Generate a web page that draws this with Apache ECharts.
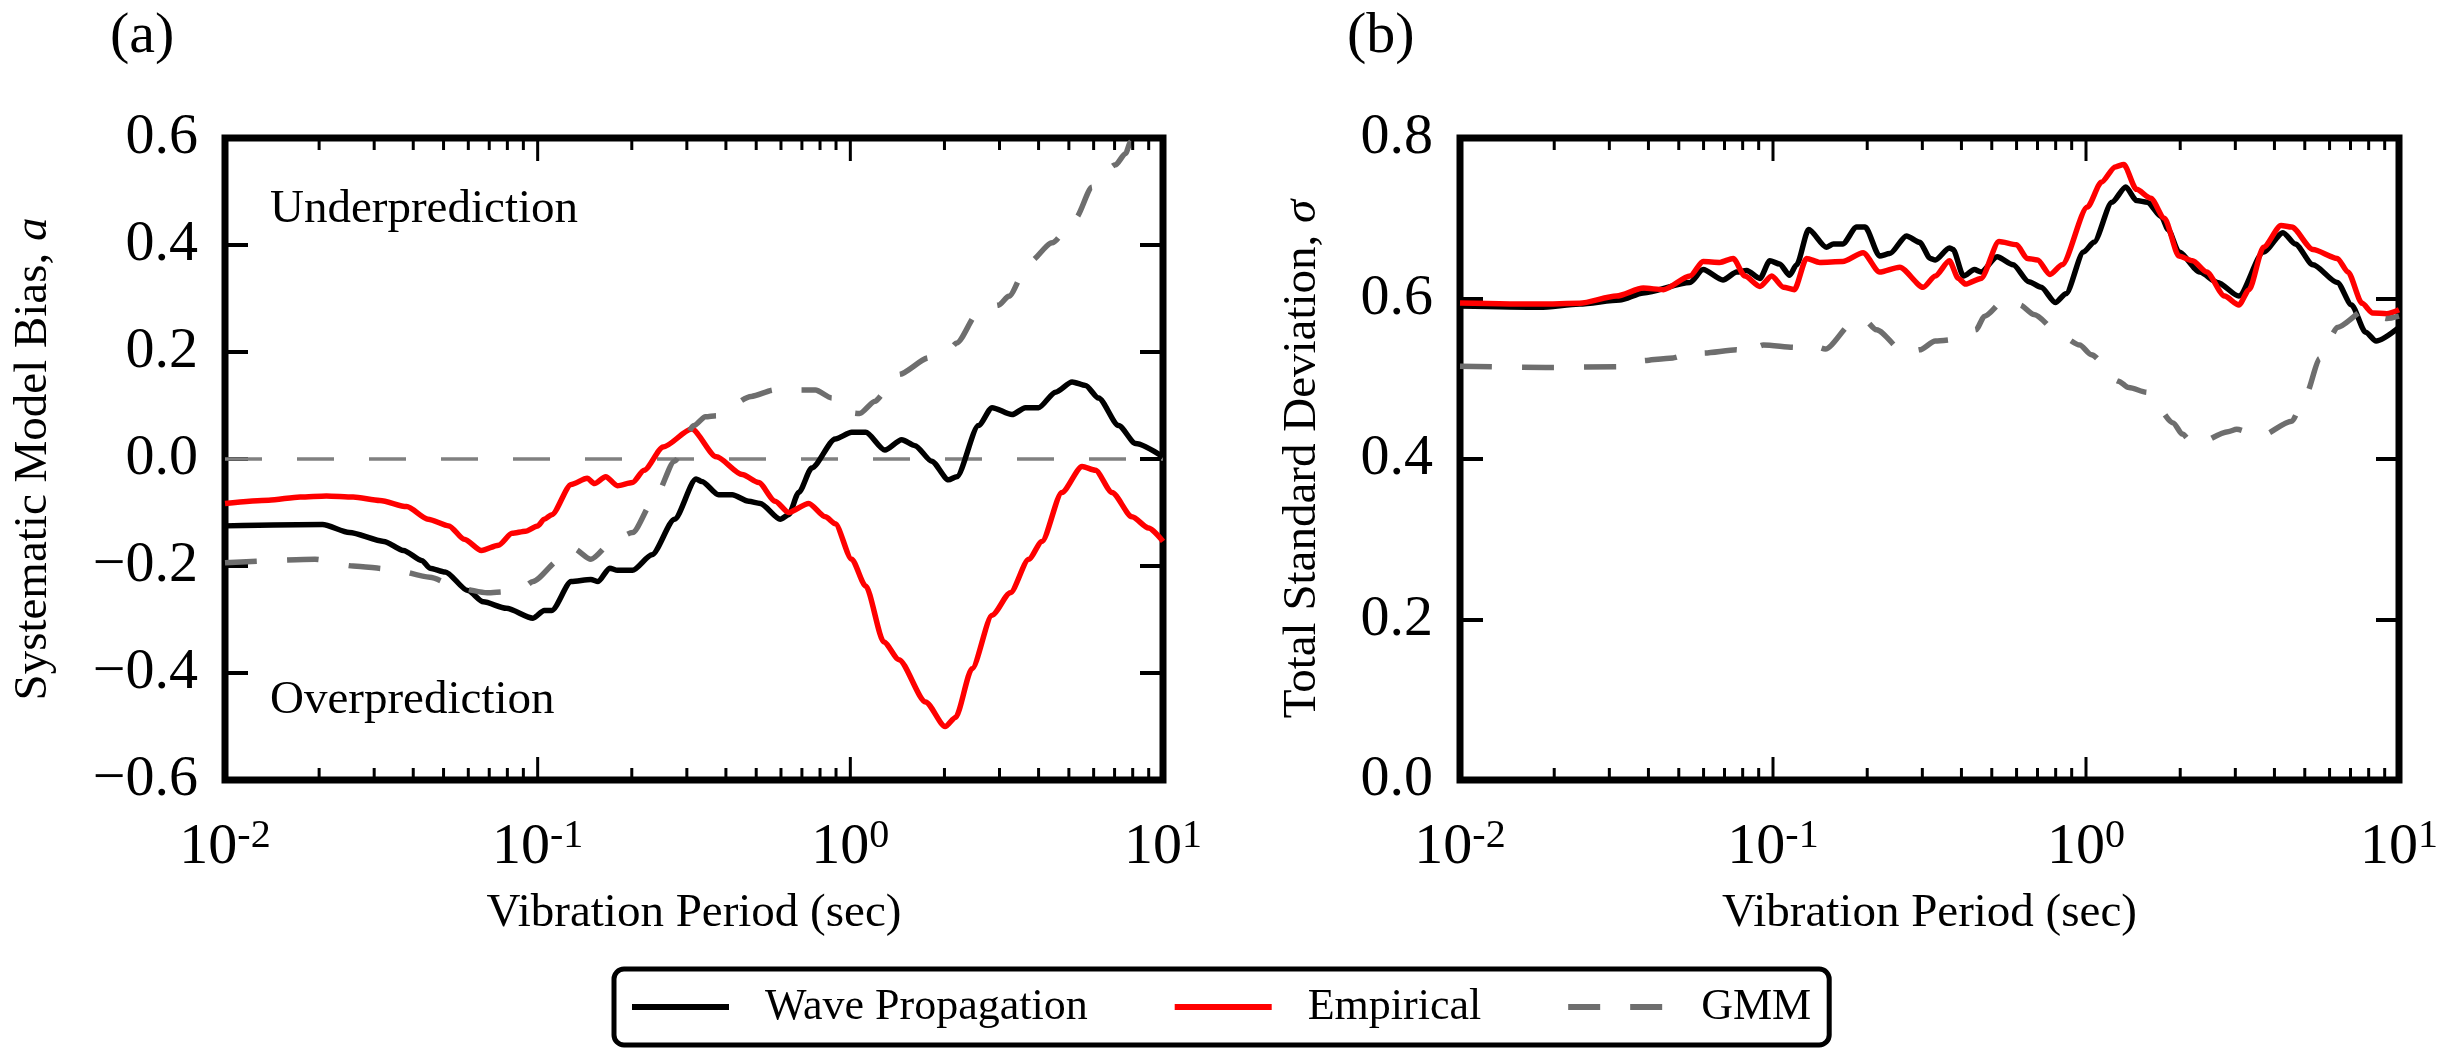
<!DOCTYPE html>
<html>
<head>
<meta charset="utf-8">
<script src="https://cdn.jsdelivr.net/npm/echarts@6/dist/echarts.min.js"></script>
<style>html,body{margin:0;padding:0;background:#fff;}#chart{width:2453px;height:1048px;}</style>
</head>
<body>
<div id="chart"></div>
<script>
// ---------- DATA: [period (sec), value] ----------
const biasWave = [[0.01,-0.125],[0.0205,-0.1225],[0.025,-0.1375],[0.0322,-0.154],[0.0372,-0.171],[0.0427,-0.19],[0.0452,-0.204],[0.0506,-0.211],[0.0598,-0.246],[0.067,-0.267],[0.0794,-0.279],[0.0966,-0.2975],[0.105,-0.283],[0.111,-0.283],[0.128,-0.229],[0.148,-0.225],[0.156,-0.229],[0.17,-0.204],[0.18,-0.208],[0.201,-0.208],[0.232,-0.179],[0.274,-0.1125],[0.321,-0.0375],[0.335,-0.042],[0.379,-0.067],[0.419,-0.067],[0.473,-0.079],[0.515,-0.083],[0.597,-0.1125],[0.635,-0.104],[0.684,-0.0625],[0.753,-0.0167],[0.895,0.0375],[1.01,0.05],[1.12,0.05],[1.29,0.0167],[1.46,0.036],[1.61,0.025],[1.82,-0.004],[2.06,-0.039],[2.19,-0.033],[2.57,0.0625],[2.84,0.096],[3.29,0.083],[3.63,0.096],[4.0,0.096],[4.53,0.125],[5.12,0.144],[5.65,0.1375],[6.22,0.114],[7.21,0.0625],[8.17,0.029],[10,0.004]];
const biasEmpirical = [[0.01,-0.083],[0.0138,-0.077],[0.0174,-0.071],[0.0211,-0.069],[0.0257,-0.071],[0.0313,-0.0775],[0.0381,-0.089],[0.0446,-0.1125],[0.052,-0.125],[0.0582,-0.15],[0.0661,-0.171],[0.075,-0.161],[0.0828,-0.139],[0.0914,-0.135],[0.1,-0.125],[0.105,-0.1125],[0.111,-0.104],[0.128,-0.0475],[0.144,-0.036],[0.152,-0.046],[0.165,-0.033],[0.18,-0.05],[0.201,-0.044],[0.219,-0.021],[0.252,0.0225],[0.311,0.056],[0.373,0.004],[0.451,-0.029],[0.509,-0.044],[0.575,-0.079],[0.635,-0.1],[0.736,-0.083],[0.832,-0.108],[0.895,-0.121],[1.01,-0.1875],[1.12,-0.2375],[1.28,-0.342],[1.43,-0.375],[1.74,-0.454],[2.01,-0.5],[2.17,-0.483],[2.45,-0.392],[2.84,-0.292],[3.25,-0.25],[3.72,-0.1875],[4.1,-0.154],[4.75,-0.0625],[5.51,-0.014],[6.08,-0.021],[6.87,-0.0625],[7.96,-0.108],[8.99,-0.129],[10,-0.154]];
const biasGMM = [[0.01,-0.194],[0.0194,-0.1875],[0.0257,-0.2],[0.034,-0.206],[0.0452,-0.221],[0.0566,-0.242],[0.0689,-0.25],[0.0794,-0.248],[0.0889,-0.242],[0.0966,-0.229],[0.118,-0.1875],[0.13,-0.167],[0.148,-0.1875],[0.175,-0.1525],[0.201,-0.1375],[0.238,-0.071],[0.274,-0.004],[0.316,0.0625],[0.344,0.079],[0.373,0.081],[0.482,0.117],[0.571,0.129],[0.646,0.129],[0.773,0.129],[0.873,0.114],[0.964,0.0875],[1.07,0.085],[1.2,0.108],[1.29,0.125],[1.43,0.158],[1.78,0.189],[2.06,0.204],[2.19,0.217],[2.57,0.275],[2.98,0.2875],[3.21,0.304],[3.72,0.367],[4.42,0.404],[5.25,0.45],[5.93,0.508],[7.05,0.55],[7.59,0.571],[7.87,0.592],[8.91,0.66],[10,0.72]];
const zeroRef = [[0.01,0],[10,0]];

const sigmaWave = [[0.01,0.5905],[0.018,0.589],[0.0241,0.593],[0.0324,0.598],[0.0385,0.607],[0.0543,0.62],[0.0598,0.636],[0.0692,0.623],[0.0766,0.633],[0.0824,0.635],[0.0908,0.625],[0.0977,0.647],[0.105,0.643],[0.113,0.629],[0.119,0.642],[0.13,0.686],[0.148,0.664],[0.156,0.668],[0.167,0.668],[0.185,0.689],[0.197,0.689],[0.219,0.653],[0.236,0.656],[0.267,0.678],[0.294,0.67],[0.318,0.65],[0.33,0.648],[0.366,0.663],[0.376,0.661],[0.406,0.628],[0.44,0.636],[0.462,0.633],[0.52,0.652],[0.585,0.642],[0.656,0.621],[0.719,0.614],[0.798,0.595],[0.863,0.606],[0.982,0.658],[1.06,0.67],[1.21,0.72],[1.34,0.739],[1.45,0.722],[1.57,0.72],[1.74,0.702],[1.83,0.686],[1.98,0.658],[2.31,0.633],[2.63,0.62],[3.08,0.603],[3.69,0.658],[4.26,0.682],[4.66,0.668],[5.31,0.642],[6.35,0.62],[7.05,0.592],[7.82,0.558],[8.45,0.547],[10,0.564]];
const sigmaEmpirical = [[0.01,0.5945],[0.018,0.593],[0.0241,0.594],[0.0316,0.603],[0.0385,0.613],[0.0447,0.611],[0.0543,0.628],[0.0598,0.646],[0.0676,0.645],[0.0746,0.65],[0.0813,0.628],[0.0908,0.615],[0.0991,0.628],[0.108,0.614],[0.117,0.611],[0.128,0.65],[0.141,0.645],[0.167,0.646],[0.194,0.657],[0.219,0.633],[0.254,0.639],[0.302,0.614],[0.33,0.628],[0.366,0.647],[0.391,0.625],[0.412,0.618],[0.462,0.625],[0.527,0.671],[0.6,0.667],[0.649,0.65],[0.7,0.648],[0.767,0.63],[0.839,0.642],[1.01,0.714],[1.12,0.745],[1.24,0.764],[1.32,0.767],[1.45,0.736],[1.61,0.725],[1.78,0.7],[1.98,0.653],[2.19,0.647],[2.43,0.633],[2.77,0.603],[3.08,0.592],[3.32,0.611],[3.69,0.664],[4.2,0.691],[4.54,0.689],[5.31,0.661],[6.35,0.65],[6.87,0.633],[7.62,0.594],[8.24,0.582],[9.14,0.581],[10,0.586]];
const sigmaGMM = [[0.01,0.5155],[0.0188,0.514],[0.0324,0.515],[0.0366,0.522],[0.0479,0.526],[0.0528,0.53],[0.0569,0.527],[0.0598,0.532],[0.0766,0.536],[0.0804,0.528],[0.0843,0.535],[0.0931,0.542],[0.119,0.539],[0.131,0.543],[0.147,0.537],[0.18,0.57],[0.194,0.575],[0.214,0.561],[0.267,0.53],[0.294,0.536],[0.33,0.547],[0.401,0.55],[0.445,0.561],[0.474,0.578],[0.555,0.6],[0.615,0.592],[0.682,0.58],[0.839,0.553],[0.955,0.542],[1.04,0.53],[1.27,0.497],[1.37,0.489],[1.57,0.483],[1.9,0.445],[2.03,0.431],[2.22,0.417],[2.84,0.434],[3.03,0.437],[3.59,0.428],[4.54,0.447],[5.04,0.48],[5.58,0.525],[6.04,0.553],[6.35,0.564],[7.82,0.586],[9.14,0.575],[10,0.578]];

const majorPeriodTicks = [0.01, 0.1, 1, 10];
const minorPeriodTicks = [0.02,0.03,0.04,0.05,0.06,0.07,0.08,0.09,0.2,0.3,0.4,0.5,0.6,0.7,0.8,0.9,2,3,4,5,6,7,8,9];
const biasRange = [-0.6, 0.6];
const sigmaRange = [0, 0.8];
const seriesNames = ['Wave Propagation', 'Empirical', 'GMM'];
const panelLabels = ['(a)', '(b)'];
const yNames = ['Systematic Model Bias, {i|a}', 'Total Standard Deviation, {i|σ}'];
const xName = 'Vibration Period (sec)';

// ---------- STYLE ----------
const FONT = 'Liberation Serif';
const rects = [
  {left: 225, top: 138, width: 938, height: 642},
  {left: 1460, top: 138, width: 939, height: 642}
];

const xAxis = [];
[0, 1].forEach(function (g) {
  xAxis.push({type: 'log', logBase: 10, min: 0.01, max: 10, gridIndex: g, position: 'bottom',
    splitLine: {show: false}, axisLine: {show: false, onZero: false}, axisTick: {show: false},
    name: xName, nameLocation: 'middle', nameGap: 110,
    nameTextStyle: {fontFamily: FONT, fontSize: 47, color: '#000'},
    axisLabel: {show: true, margin: 36, customValues: majorPeriodTicks, fontFamily: FONT, color: '#000',
      formatter: function (v) { const e = Math.round(Math.log10(v)); return '{b|10}{s|' + (e < 0 ? '-' + (-e) : e) + '}'; },
      rich: {b: {fontFamily: FONT, fontSize: 58, lineHeight: 64, color: '#000'},
             s: {fontFamily: FONT, fontSize: 40, lineHeight: 32, verticalAlign: 'top', color: '#000'}}}});
});
[0, 1].forEach(function (g) {
  // hidden linear axis in log10(period), used to place the log tick marks
  xAxis.push({type: 'value', min: -2, max: 1, gridIndex: g, show: false, position: 'top',
    axisLine: {onZero: false}});
});

function valAxis(g, pos, range, extra) {
  return Object.assign({type: 'value', min: range[0], max: range[1], interval: 0.2, gridIndex: g, position: pos, offset: 0,
    splitLine: {show: false}, axisLine: {show: false, onZero: false}, axisLabel: {show: false},
    axisTick: {show: true, inside: true, length: 23, lineStyle: {color: '#000', width: 4}}}, extra);
}
function yLabelOpts(name, gap) {
  return {name: name, nameLocation: 'middle', nameGap: gap, nameRotate: 90,
    nameTextStyle: {fontFamily: FONT, fontSize: 47, color: '#000',
      rich: {i: {fontFamily: FONT, fontSize: 47, fontStyle: 'italic', color: '#000'}}},
    axisLabel: {show: true, margin: 27, fontFamily: FONT, fontSize: 58, color: '#000',
      formatter: function (v) { return (v < 0 ? '\u2212' : '') + Math.abs(v).toFixed(1); }}};
}
const yAxis = [
  valAxis(0, 'left', biasRange, yLabelOpts(yNames[0], 168)),
  valAxis(0, 'right', biasRange, {}),
  valAxis(1, 'left', sigmaRange, yLabelOpts(yNames[1], 134)),
  valAxis(1, 'right', sigmaRange, {})
];

function lineSeries(name, data, xi, yi, color, width, dash, z) {
  return {name: name, type: 'line', data: data, xAxisIndex: xi, yAxisIndex: yi,
    showSymbol: false, symbol: 'none', smooth: 0.25, smoothMonotone: 'x', clip: true, z: z,
    lineStyle: {color: color, width: width, type: dash || 'solid', cap: 'butt', join: 'round'},
    itemStyle: {color: color}, emphasis: {disabled: true}};
}
// log tick marks: decades (long) and 2..9 (short), on the bottom and top frame edges
function tickSeries(xi, yi, range) {
  const data = majorPeriodTicks.concat(minorPeriodTicks).map(function (t) { return [Math.log10(t), range[0]]; });
  const nMajor = majorPeriodTicks.length;
  return {type: 'custom', name: 'ticks', xAxisIndex: xi, yAxisIndex: yi, clip: false, z: 10, silent: true,
    data: data, encode: {x: 0, y: 1},
    renderItem: function (params, api) {
      const x = api.value(0);
      const len = params.dataIndex < nMajor ? 23 : 12;
      const b = api.coord([x, range[0]]);
      const p = api.coord([x, range[1]]);
      return {type: 'group', children: [
        {type: 'line', shape: {x1: b[0], y1: b[1], x2: b[0], y2: b[1] - len}, style: {stroke: '#000', lineWidth: 3}},
        {type: 'line', shape: {x1: p[0], y1: p[1], x2: p[0], y2: p[1] + len}, style: {stroke: '#000', lineWidth: 3}}
      ]};
    }};
}

const series = [];
const zs = lineSeries('zero', zeroRef, 0, 0, '#808080', 3.5, [37, 35], 2);
zs.smooth = false;
series.push(zs);
[[biasWave, biasEmpirical, biasGMM, 0, 0, biasRange, 2], [sigmaWave, sigmaEmpirical, sigmaGMM, 1, 2, sigmaRange, 3]].forEach(function (p) {
  series.push(lineSeries(seriesNames[0], p[0], p[3], p[4], '#000000', 5.5, null, 3));
  series.push(lineSeries(seriesNames[1], p[1], p[3], p[4], '#ff0000', 5.5, null, 4));
  series.push(lineSeries(seriesNames[2], p[2], p[3], p[4], '#6e6e6e', 5.5, [32, 30], 5));
  series.push(tickSeries(p[6], p[4], p[5]));
});

const option = {
  animation: false,
  backgroundColor: '#ffffff',
  textStyle: {fontFamily: FONT},
  grid: rects.map(function (g) { return Object.assign({show: true, borderColor: '#000', borderWidth: 7, backgroundColor: 'transparent'}, g); }),
  xAxis: xAxis,
  yAxis: yAxis,
  legend: {
    data: seriesNames, left: 614, top: 969,
    orient: 'horizontal', padding: [16, 18, 16, 15],
    itemWidth: 97, itemHeight: 44, itemGap: 84,
    borderColor: '#000', borderWidth: 5, borderRadius: 10, backgroundColor: '#fff',
    selectedMode: false,
    itemStyle: {opacity: 0, borderWidth: 0},
    lineStyle: {width: 6},
    textStyle: {fontFamily: FONT, fontSize: 44, color: '#000', padding: [0, 0, 0, 31], lineHeight: 44},
    inactiveColor: '#000'
  },
  series: series,
  graphic: [
    {type: 'text', left: 110, top: 8, style: {text: panelLabels[0], font: '58px "Liberation Serif"', fill: '#000'}},
    {type: 'text', left: 1347, top: 8, style: {text: panelLabels[1], font: '58px "Liberation Serif"', fill: '#000'}},
    {type: 'text', left: 270, top: 186, style: {text: 'Underprediction', font: '47px "Liberation Serif"', fill: '#000'}},
    {type: 'text', left: 270, top: 677, style: {text: 'Overprediction', font: '47px "Liberation Serif"', fill: '#000'}}
  ]
};

const chart = echarts.init(document.getElementById('chart'), null, {renderer: 'canvas'});
chart.setOption(option);
</script>
</body>
</html>
